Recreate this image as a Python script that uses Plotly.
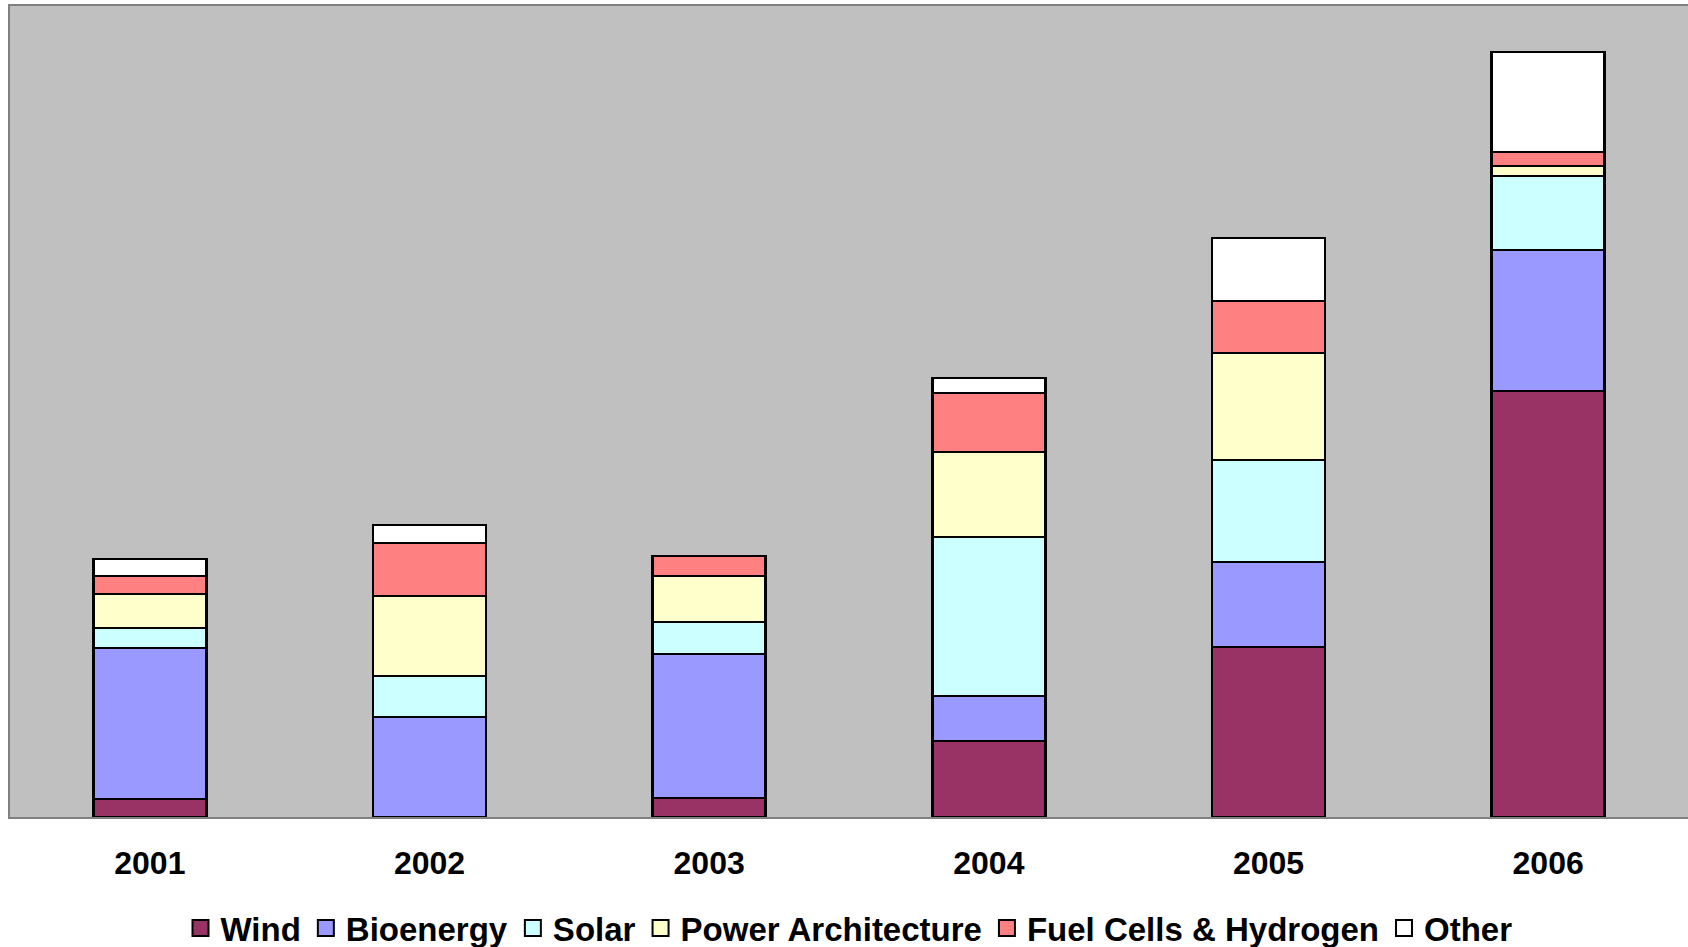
import plotly.graph_objects as go

years = ["2001", "2002", "2003", "2004", "2005", "2006"]

wind = [18, 0, 19, 76, 170, 426]
bioenergy = [151, 100, 144, 45, 85, 141]
solar = [20, 41, 32, 159, 102, 74]
power_arch = [34, 80, 46, 85, 107, 10]
fuel_cells = [18, 53, 20, 59, 52, 14]
other = [17, 18, 0, 15, 63, 100]

series = [
    ("Wind", wind, "#993366"),
    ("Bioenergy", bioenergy, "#9999FF"),
    ("Solar", solar, "#CCFFFF"),
    ("Power Architecture", power_arch, "#FFFFCC"),
    ("Fuel Cells & Hydrogen", fuel_cells, "#FF8080"),
    ("Other", other, "#FFFFFF"),
]

fig = go.Figure()
for name, vals, color in series:
    fig.add_trace(go.Bar(
        x=years, y=vals, name=name, legendgroup=name, showlegend=False,
        marker=dict(color=color, line=dict(color="black", width=2.5)),
    ))
# legend entries with larger square swatches
for name, vals, color in series:
    fig.add_trace(go.Scatter(
        x=[None], y=[None], name=name, legendgroup=name, mode="markers",
        marker=dict(symbol="square", size=16, color=color,
                    line=dict(color="black", width=2)),
        hoverinfo="skip",
    ))

font_family = "Arial, 'Liberation Sans', sans-serif"

fig.update_layout(
    width=1688, height=947,
    barmode="stack",
    bargap=0.596,
    plot_bgcolor="#C0C0C0",
    paper_bgcolor="white",
    margin=dict(l=10, r=0, t=6, b=130, autoexpand=False),
    font=dict(family=font_family, color="black"),
    showlegend=True,
    legend=dict(
        orientation="h",
        x=0.5, xanchor="center",
        yref="container",
        y=0.02, yanchor="middle",
        font=dict(size=33, family=font_family, color="black", weight="bold"),
        itemclick=False, itemdoubleclick=False,
        traceorder="normal",
        itemsizing="trace",
        bgcolor="rgba(0,0,0,0)",
    ),
    xaxis=dict(
        type="category",
        range=[-0.5, 5.5],
        showline=True, mirror=True,
        linecolor="#808080", linewidth=2,
        showgrid=False, ticks="",
        tickfont=dict(size=32, family=font_family, color="black", weight="bold"),
        ticklabelstandoff=17,
        automargin=False,
    ),
    yaxis=dict(
        range=[0, 811],
        showline=True, linecolor="#808080", linewidth=2,
        showgrid=False, zeroline=False,
        showticklabels=False, ticks="",
        automargin=False,
    ),
)

fig.write_html(
    "out.html",
    config={"displayModeBar": False},
    post_script="document.body.style.margin='0';document.body.style.overflow='hidden';",
)
